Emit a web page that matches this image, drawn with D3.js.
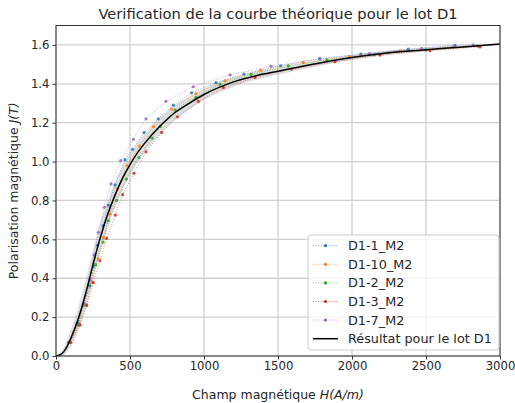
<!DOCTYPE html>
<html><head><meta charset="utf-8">
<script src="https://cdn.jsdelivr.net/npm/d3@7"></script>
<style>body{margin:0;background:#fff}svg{display:block}text{font-family:"DejaVu Sans",sans-serif;fill:#262626}</style>
</head><body>
<svg id="c" width="515" height="403"></svg>
<script>
const xTicks = [0,500,1000,1500,2000,2500,3000];
const yTicks = [0.0,0.2,0.4,0.6,0.8,1.0,1.2,1.4,1.6];

const seriesNames = ["D1-1_M2","D1-10_M2","D1-2_M2","D1-3_M2","D1-7_M2"];
const seriesColors = ["#1f77b4","#ff7f0e","#2ca02c","#d62728","#9467bd"];

const h_D1_1 = [90,150,190,230,252,281,318,354,399,466,518,595,691,793,916,1081,1270,1518,1780,2059,2380,2696];
const j_D1_1 = [0.07,0.17,0.27,0.36,0.46,0.57,0.67,0.776,0.88,1.01,1.063,1.149,1.22,1.29,1.354,1.406,1.45,1.493,1.53,1.553,1.578,1.598];

const h_D1_10 = [95,160,207,245,285,320,365,415,480,563,658,780,946,1142,1383,1671,1982,2324,2680];
const j_D1_10 = [0.07,0.16,0.26,0.38,0.50,0.61,0.73,0.86,0.98,1.08,1.18,1.27,1.35,1.416,1.47,1.51,1.54,1.57,1.59];

const h_D1_2 = [90,150,185,223,268,318,354,410,475,560,650,703,804,946,1108,1318,1570,1830,2150,2500,2850];
const j_D1_2 = [0.07,0.16,0.26,0.365,0.47,0.585,0.695,0.80,0.91,1.02,1.12,1.18,1.265,1.33,1.397,1.449,1.492,1.523,1.55,1.575,1.595];

const h_D1_3 = [99,162,207,252,297,342,401,450,527,608,714,820,962,1131,1345,1592,1885,2189,2527,2865];
const j_D1_3 = [0.07,0.16,0.26,0.377,0.49,0.605,0.725,0.83,0.94,1.05,1.15,1.23,1.31,1.38,1.433,1.476,1.514,1.548,1.571,1.59];

const h_D1_7 = [85,140,191,230,258,286,327,372,437,523,608,743,928,1176,1453,1784,2117,2471,2820];
const j_D1_7 = [0.07,0.165,0.27,0.39,0.52,0.636,0.765,0.885,1.005,1.115,1.22,1.31,1.385,1.446,1.49,1.528,1.556,1.583,1.60];

const h_fit = [0,25,50,75,100,150,200,250,300,350,400,450,500,550,600,700,800,900,1000,1200,1400,1600,1800,2000,2250,2500,2750,3000];
const j_fit = [0,0.005,0.02,0.05,0.09,0.19,0.32,0.47,0.61,0.73,0.83,0.915,0.985,1.045,1.095,1.18,1.25,1.30,1.345,1.41,1.45,1.48,1.51,1.535,1.56,1.575,1.59,1.605];
const band_fit = [0,0.01,0.02,0.03,0.045,0.06,0.07,0.075,0.075,0.07,0.065,0.06,0.055,0.05,0.047,0.042,0.037,0.033,0.03,0.025,0.02,0.017,0.014,0.012,0.01,0.008,0.006,0.005];

const fitName = "Résultat pour le lot D1";

const seriesH = [h_D1_1,h_D1_10,h_D1_2,h_D1_3,h_D1_7];
const seriesJ = [j_D1_1,j_D1_10,j_D1_2,j_D1_3,j_D1_7];

const svg = d3.select("#c");
const L = 56, R = 500, T = 25.5, B = 356;
const x = d3.scaleLinear().domain([0,3000]).range([L,R]);
const y = d3.scaleLinear().domain([0,1.7]).range([B,T]);

// grid
const g = svg.append("g");
g.selectAll(".gx").data(xTicks).enter().append("line")
  .attr("x1",d=>x(d)).attr("x2",d=>x(d)).attr("y1",T).attr("y2",B)
  .attr("stroke","#d0d0d0").attr("stroke-width",1.3);
g.selectAll(".gy").data(yTicks).enter().append("line")
  .attr("x1",L).attr("x2",R).attr("y1",d=>y(d)).attr("y2",d=>y(d))
  .attr("stroke","#d0d0d0").attr("stroke-width",1.3);

svg.append("defs").append("clipPath").attr("id","pc").append("rect")
  .attr("x",L).attr("y",T).attr("width",R-L).attr("height",B-T);
const plot = svg.append("g").attr("clip-path","url(#pc)");

// band
const fitData = h_fit.map((h,i)=>({h, j:j_fit[i], b:band_fit[i]}));
plot.append("path").datum(fitData)
  .attr("d", d3.area().x(d=>x(d.h)).y0(d=>y(d.j-d.b)).y1(d=>y(d.j+d.b)).curve(d3.curveMonotoneX))
  .attr("fill","#a0a0a0").attr("opacity",0.35);

// series
seriesNames.forEach((n,k)=>{
  const data = seriesH[k].map((h,i)=>({h, j:seriesJ[k][i]}));
  plot.append("path").datum(data)
    .attr("d", d3.line().x(d=>x(d.h)).y(d=>y(d.j)))
    .attr("fill","none").attr("stroke",seriesColors[k]).attr("stroke-width",1)
    .attr("stroke-dasharray","1,1.6").attr("opacity",0.55);
  plot.selectAll(null).data(data).enter().append("circle")
    .attr("cx",d=>x(d.h)).attr("cy",d=>y(d.j)).attr("r",1.6)
    .attr("fill",seriesColors[k]).attr("opacity",0.85);
});

// fit curve
plot.append("path").datum(fitData)
  .attr("d", d3.line().x(d=>x(d.h)).y(d=>y(d.j)).curve(d3.curveMonotoneX))
  .attr("fill","none").attr("stroke","#000").attr("stroke-width",1.5);

// axes
const ax = svg.append("g").attr("transform",`translate(0,${B})`)
  .call(d3.axisBottom(x).tickValues(xTicks).tickFormat(d3.format("d")).tickSize(3.5).tickPadding(2.5));
const ay = svg.append("g").attr("transform",`translate(${L},0)`)
  .call(d3.axisLeft(y).tickValues(yTicks).tickFormat(d3.format(".1f")).tickSize(3.5).tickPadding(3));
[ax,ay].forEach(a=>{
  a.select(".domain").remove();
  a.selectAll("line").attr("stroke","#333");
  a.selectAll("text").attr("font-size",11.7).attr("fill","#262626").attr("font-family","DejaVu Sans");
});
svg.append("rect").attr("x",L).attr("y",T).attr("width",R-L).attr("height",B-T)
  .attr("fill","none").attr("stroke","#333").attr("stroke-width",1);

// title & labels
svg.append("text").attr("x",(L+R)/2).attr("y",19).attr("text-anchor","middle")
  .attr("font-size",14.7).text("Verification de la courbe théorique pour le lot D1");
const xl = svg.append("text").attr("x",(L+R)/2).attr("y",399).attr("text-anchor","middle").attr("font-size",12.5);
xl.append("tspan").text("Champ magnétique ");
xl.append("tspan").attr("font-style","italic").text("H(A/m)");
const yl = svg.append("text").attr("transform",`translate(18,${(T+B)/2}) rotate(-90)`).attr("text-anchor","middle").attr("font-size",12.5);
yl.append("tspan").text("Polarisation magnétique ");
yl.append("tspan").attr("font-style","italic").text("J(T)");

// legend
const lg = svg.append("g");
lg.append("rect").attr("x",308).attr("y",235).attr("width",191).attr("height",115).attr("rx",3)
  .attr("fill","#fff").attr("fill-opacity",0.8).attr("stroke","#cccccc").attr("stroke-width",1);
const rowY = [245.7,264.3,282.9,301.5,320.1,338.7];
seriesNames.forEach((n,k)=>{
  lg.append("line").attr("x1",313).attr("x2",338).attr("y1",rowY[k]).attr("y2",rowY[k])
    .attr("stroke",seriesColors[k]).attr("stroke-width",1).attr("stroke-dasharray","1,1.6").attr("opacity",0.6);
  lg.append("circle").attr("cx",325.5).attr("cy",rowY[k]).attr("r",1.6).attr("fill",seriesColors[k]);
  lg.append("text").attr("x",348).attr("y",rowY[k]+4.5).attr("font-size",12.8).text(n);
});
lg.append("line").attr("x1",313).attr("x2",338).attr("y1",rowY[5]).attr("y2",rowY[5])
  .attr("stroke","#000").attr("stroke-width",1.5);
lg.append("text").attr("x",348).attr("y",rowY[5]+4.5).attr("font-size",12.8).text(fitName);
</script>
</body></html>
